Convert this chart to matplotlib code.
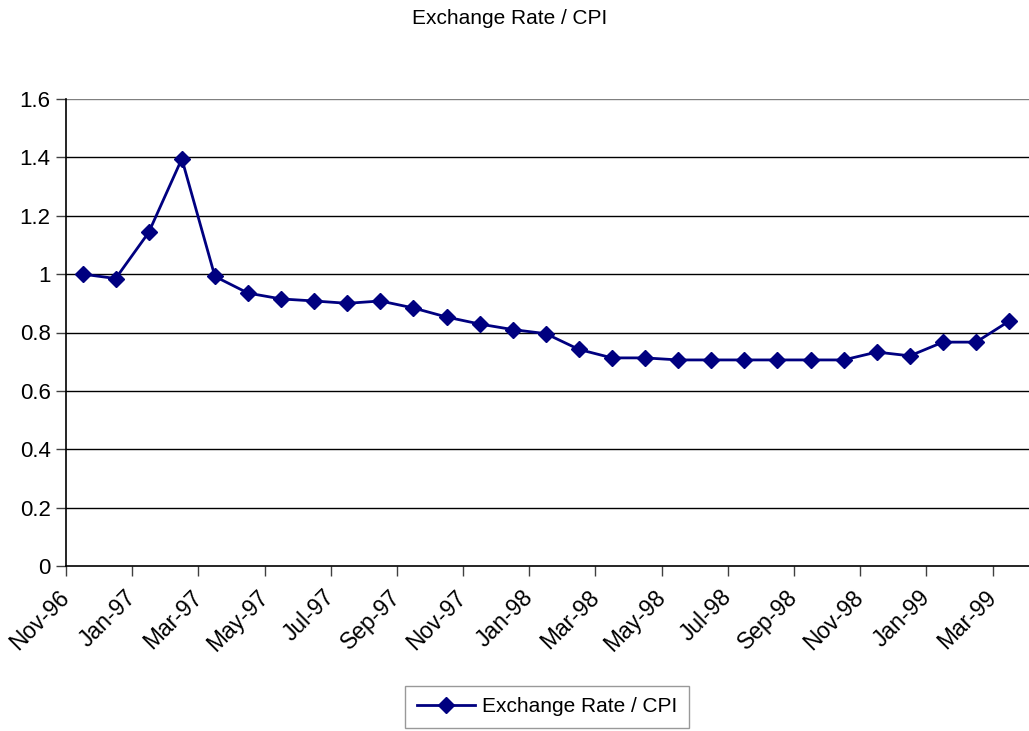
import matplotlib
matplotlib.use("Agg")
import matplotlib.pyplot as plt

plt.rcParams['font.family'] = ['Liberation Sans', 'DejaVu Sans']

# Monthly series, Nov-96 .. Mar-99
months = ["Nov-96", "Dec-96", "Jan-97", "Feb-97", "Mar-97", "Apr-97", "May-97", "Jun-97",
          "Jul-97", "Aug-97", "Sep-97", "Oct-97", "Nov-97", "Dec-97", "Jan-98", "Feb-98",
          "Mar-98", "Apr-98", "May-98", "Jun-98", "Jul-98", "Aug-98", "Sep-98", "Oct-98",
          "Nov-98", "Dec-98", "Jan-99", "Feb-99", "Mar-99"]
ratio = [1.000, 0.985, 1.143, 1.395, 0.992, 0.935, 0.915, 0.908,
         0.900, 0.908, 0.884, 0.853, 0.829, 0.810, 0.796, 0.742,
         0.713, 0.713, 0.706, 0.706, 0.706, 0.706, 0.706, 0.706,
         0.733, 0.720, 0.767, 0.767, 0.839]
series_name = "Exchange Rate / CPI"
yticks = [0, 0.2, 0.4, 0.6, 0.8, 1, 1.2, 1.4, 1.6]
ytick_labels = ["0", "0.2", "0.4", "0.6", "0.8", "1", "1.2", "1.4", "1.6"]

fig = plt.figure(figsize=(10.29, 7.31), dpi=100)
ax = fig.add_axes([66 / 1029, 165 / 731, (1029 - 66) / 1029, (566 - 99) / 731])

x = [i + 0.5 for i in range(len(months))]
ax.plot(x, ratio, color="#000080", linewidth=2, marker="D", markersize=8,
        markerfacecolor="#000080", markeredgecolor="#000080", label=series_name,
        zorder=3, clip_on=False)

ax.set_xlim(0, len(months) + 0.1)
ax.set_ylim(0, 1.6)

tick_pos = list(range(0, len(months), 2))
ax.set_xticks(tick_pos)
ax.set_xticklabels([months[i] for i in tick_pos], rotation=45, ha="right", va="center",
                   rotation_mode="anchor", fontsize=16.5)
ax.set_yticks(yticks)
ax.set_yticklabels(ytick_labels, fontsize=16)

for y in yticks[1:]:
    ax.axhline(y, color="black" if y < 1.6 else "#808080", linewidth=1, zorder=1)

for side in ("top", "right"):
    ax.spines[side].set_visible(False)
ax.spines["left"].set_color("black")
ax.spines["bottom"].set_color("black")
ax.spines["left"].set_linewidth(1.2)
ax.spines["bottom"].set_linewidth(1.2)
ax.tick_params(axis="both", direction="out", length=7, width=1, color="#404040")
ax.tick_params(axis="x", pad=13)
ax.tick_params(axis="y", pad=4)

fig.text(0.495, 1 - 19 / 731, series_name, ha="center", va="center", fontsize=15)

leg = fig.legend(loc="upper center", bbox_to_anchor=(547 / 1029, 1 - 686 / 731),
                 frameon=True, fancybox=False, fontsize=15, handlelength=2.8,
                 borderpad=0.55, handletextpad=0.35, borderaxespad=0)
leg.get_frame().set_edgecolor("#808080")
leg.get_frame().set_linewidth(1)

fig.savefig("out.png", dpi=100)
